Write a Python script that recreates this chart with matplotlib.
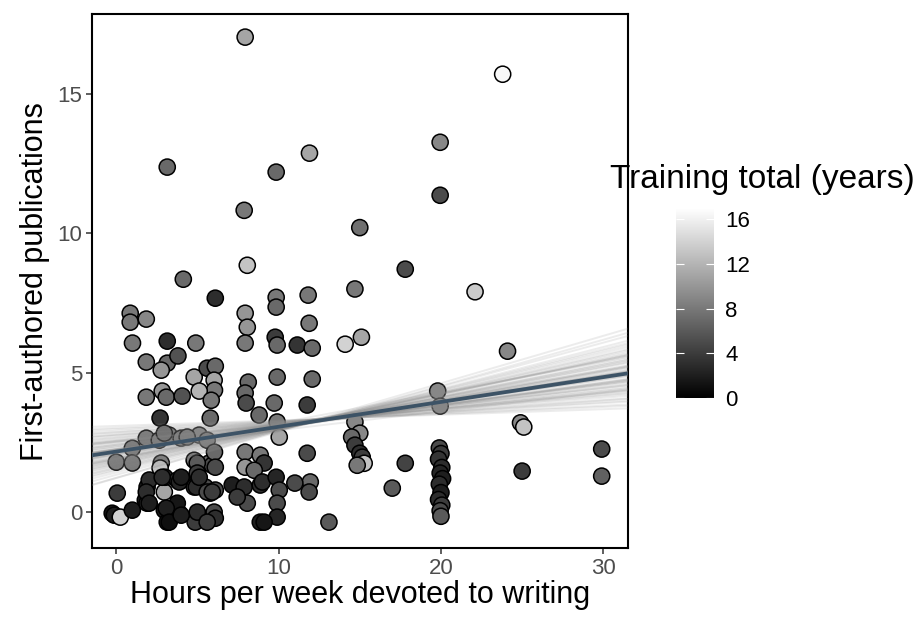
import matplotlib
matplotlib.use("Agg")
import matplotlib.pyplot as plt
import numpy as np

plt.rcParams["font.family"] = ["Liberation Sans", "DejaVu Sans"]

# hours per week (x), first-authored publications (y), training years (colour)
hours = [
    7.94, 23.8, 19.95, 11.9, 3.14, 9.85, 19.95, 7.88, 15.0, 8.07,
    17.8, 4.13, 14.7, 22.1, 11.82, 6.1, 9.85, 7.94, 9.85, 0.86,
    0.86, 1.85, 8.07, 7.94, 3.14, 1.0, 4.9, 9.79, 9.91, 11.88,
    11.15, 12.07, 14.1, 15.1, 24.1, 1.85, 3.14, 3.8, 2.77, 4.8,
    5.6, 6.1, 6.03, 6.05, 5.11, 1.85, 2.83, 3.08, 4.06, 5.85,
    8.13, 7.94, 8.0, 9.91, 12.07, 9.73, 11.76, 2.7, 5.79, 8.8,
    19.8, 19.95, 24.9, 25.1, 9.91, 10.04, 0.99, 1.85, 2.65, 3.26,
    4.0, 5.11, 0.0, 0.99, 2.77, 4.8, 5.73, 5.91, 2.96, 4.37,
    5.6, 6.05, 7.94, 8.87, 7.94, 9.11, 11.76, 11.95, 11.88, 2.7,
    4.99, 8.5, 0.06, -0.25, -0.12, 0.25, 0.99, 1.79, 1.9, 2.03,
    2.96, 3.0, 3.76, 4.06, 4.8, 4.99, 5.48, 5.79, 6.1, 6.1,
    1.9, 2.96, 3.14, 3.88, 4.86, 5.79, 6.03, 6.1, 3.76, 7.14,
    7.88, 8.07, 8.87, 8.87, 7.45, 2.83, 1.85, 3.88, 4.93, 4.0,
    5.11, 5.6, 2.03, 3.08, 3.26, 4.0, 4.99, 5.6, 5.91, 9.0,
    9.85, 10.04, 11.0, 9.91, 9.91, 9.11, 13.1, 14.7, 15.0, 14.5,
    14.7, 15.0, 15.15, 15.27, 14.84, 17.8, 17.0, 19.9, 20.0, 19.85,
    20.05, 19.95, 20.1, 19.9, 20.0, 19.85, 20.05, 19.95, 20.0, 25.0,
    29.9, 29.9,
]
pubs = [
    17.03, 15.7, 13.26, 12.87, 12.37, 12.19, 11.36, 10.82, 10.2, 8.85,
    8.71, 8.35, 8.0, 7.9, 7.78, 7.67, 7.7, 7.13, 7.35, 7.13,
    6.81, 6.92, 6.63, 6.06, 6.13, 6.06, 6.06, 6.27, 5.99, 6.77,
    5.99, 5.88, 6.02, 6.27, 5.77, 5.38, 5.34, 5.6, 5.09, 4.84,
    5.16, 5.23, 4.73, 4.37, 4.34, 4.12, 4.34, 4.12, 4.16, 4.01,
    4.66, 4.27, 3.91, 4.84, 4.77, 3.91, 3.84, 3.37, 3.37, 3.48,
    4.34, 3.8, 3.2, 3.05, 3.23, 2.69, 2.29, 2.65, 2.58, 2.76,
    2.65, 2.76, 1.79, 1.76, 1.76, 1.86, 1.76, 1.68, 2.83, 2.69,
    2.58, 2.15, 2.15, 2.04, 1.61, 1.76, 2.11, 1.08, 0.72, 1.58,
    1.76, 1.5, 0.68, -0.04, -0.11, -0.18, 0.07, 0.43, 0.9, 1.15,
    0.72, 1.25, 1.15, 1.15, 0.9, 1.4, 0.9, 0.68, 0.79, 1.61,
    0.32, 0.07, -0.36, -0.04, -0.36, -0.18, 0.0, -0.22, 0.32, 0.97,
    0.9, 0.32, 0.97, -0.36, 0.54, 1.25, 0.72, 1.08, 0.9, 1.25,
    1.25, 0.72, 0.32, 0.14, -0.36, -0.11, 0.0, -0.36, 0.72, 1.08,
    1.25, 0.79, 1.04, 0.32, -0.18, -0.36, -0.36, 3.23, 2.83, 2.69,
    2.4, 2.11, 1.97, 1.75, 1.68, 1.75, 0.86, 2.3, 2.1, 1.9,
    1.6, 1.4, 1.2, 1.0, 0.7, 0.45, 0.25, 0.05, -0.15, 1.47,
    2.26, 1.29,
]
training = [
    11, 16.5, 9, 11, 7, 7, 5, 8, 7.5, 13,
    5, 7, 8, 13.5, 8, 3, 8, 10, 7, 8,
    8, 9, 10, 8, 3, 8, 8, 4, 7, 8,
    3.5, 7, 14, 11, 9, 8, 7, 5.5, 10, 11,
    5, 7, 11, 8, 12, 8, 10, 7, 5.5, 8,
    7, 7, 5, 7, 7, 7, 4, 3.5, 7, 7,
    9, 9, 9, 13, 8, 11, 8, 8, 8, 8,
    8, 9, 8, 8, 8, 8, 7, 5, 7, 8,
    8, 7, 8, 8, 10, 3.5, 5, 7, 5, 13,
    6, 7, 4, 1.5, 2, 14, 2, 2, 2.5, 3,
    11, 3, 3, 4, 4, 4, 5, 4, 5, 5,
    3, 2, 2, 1.5, 4, 2, 5, 3, 1.5, 2,
    3, 5, 3, 2, 4, 3, 3, 2.5, 3, 2,
    3, 5, 2, 2, 1, 2, 3, 4, 4, 3,
    2.5, 5, 5, 5, 2.5, 1.5, 6, 9, 9, 7,
    4, 3, 4, 13, 8, 4.5, 6, 5, 4, 3.5,
    3, 2.5, 2, 3, 2, 3, 4, 5, 6, 4,
    5, 6.5,
]

# fitted line and a fan of resampled fits (slope, value at 8 h/week)
fit_slope = 0.089
fit_intercept = 2.17
draw_slopes = [
    0.089, 0.062, 0.115, 0.074, 0.101, 0.047, 0.132, 0.083, 0.095, 0.058,
    0.121, 0.069, 0.108, 0.036, 0.145, 0.079, 0.091, 0.052, 0.126, 0.086,
    0.099, 0.065, 0.112, 0.041, 0.138, 0.077, 0.093, 0.055, 0.118, 0.071,
    0.104, 0.028, 0.158, 0.084, 0.097, 0.060, 0.123, 0.081, 0.088, 0.110,
    0.072, 0.106, 0.050, 0.129, 0.092, 0.066, 0.114, 0.085, 0.044, 0.135,
    0.020, 0.165, 0.033, 0.150, 0.025, 0.170, 0.039, 0.142, 0.057, 0.124,
    0.080, 0.098, 0.068, 0.110, 0.087, 0.094, 0.075, 0.103, 0.061, 0.117,
]
draw_at8 = [
    2.88, 3.05, 2.75, 2.95, 2.82, 3.12, 2.70, 2.92, 2.85, 3.00,
    2.78, 2.97, 2.80, 3.15, 2.65, 2.90, 2.87, 3.08, 2.72, 2.93,
    2.84, 3.02, 2.77, 3.10, 2.68, 2.94, 2.86, 3.06, 2.74, 2.98,
    2.81, 3.20, 2.60, 2.91, 2.83, 3.03, 2.73, 2.89, 2.96, 2.79,
    2.99, 2.76, 3.09, 2.71, 2.87, 3.01, 2.78, 2.90, 3.13, 2.67,
    3.25, 2.55, 3.18, 2.62, 3.22, 2.58, 3.16, 2.66, 3.04, 2.74,
    2.86, 2.92, 2.80, 2.97, 2.89, 2.83, 2.95, 2.78, 3.01, 2.84,
]

fig = plt.figure(figsize=(9.19, 6.2), dpi=100)
ax = fig.add_axes([0.100, 0.116, 0.583, 0.861])

xlim = (-1.5, 31.5)
ylim = (-1.29, 17.85)

sc = ax.scatter(hours, pubs, c=training, cmap="gray", vmin=0, vmax=17,
                s=135, edgecolors="black", linewidths=1.1, zorder=2)

xs = np.array(xlim)
for b, a8 in zip(draw_slopes, draw_at8):
    ax.plot(xs, a8 + b * (xs - 8), color="#8c8c8c", alpha=0.16, lw=1.4, zorder=3)
ax.plot(xs, fit_intercept + fit_slope * xs, color="#3d5366", lw=2.7, zorder=4,
        solid_capstyle="butt")

ax.set_xlim(xlim)
ax.set_ylim(ylim)
ax.set_xticks([0, 10, 20, 30])
ax.set_yticks([0, 5, 10, 15])
for sp in ax.spines.values():
    sp.set_linewidth(1.5)
    sp.set_color("black")
ax.tick_params(direction="out", length=4, width=1.1, color="#333333",
               labelsize=16, labelcolor="#4d4d4d", pad=3)
ax.set_xlabel("Hours per week devoted to writing", fontsize=22, labelpad=1)
ax.set_ylabel("First-authored publications", fontsize=22, labelpad=5)

cax = fig.add_axes([0.7356, 0.358, 0.0413, 0.3065])
cb = fig.colorbar(sc, cax=cax, ticks=[0, 4, 8, 12, 16])
cb.outline.set_visible(False)
cax.tick_params(direction="in", length=6, width=0.8, color="white",
                labelsize=16, labelcolor="black", pad=8, left=True, right=True)
fig.text(0.664, 0.71, "Training total (years)", fontsize=24, va="center", ha="left")

fig.savefig("out.png", dpi=100)
